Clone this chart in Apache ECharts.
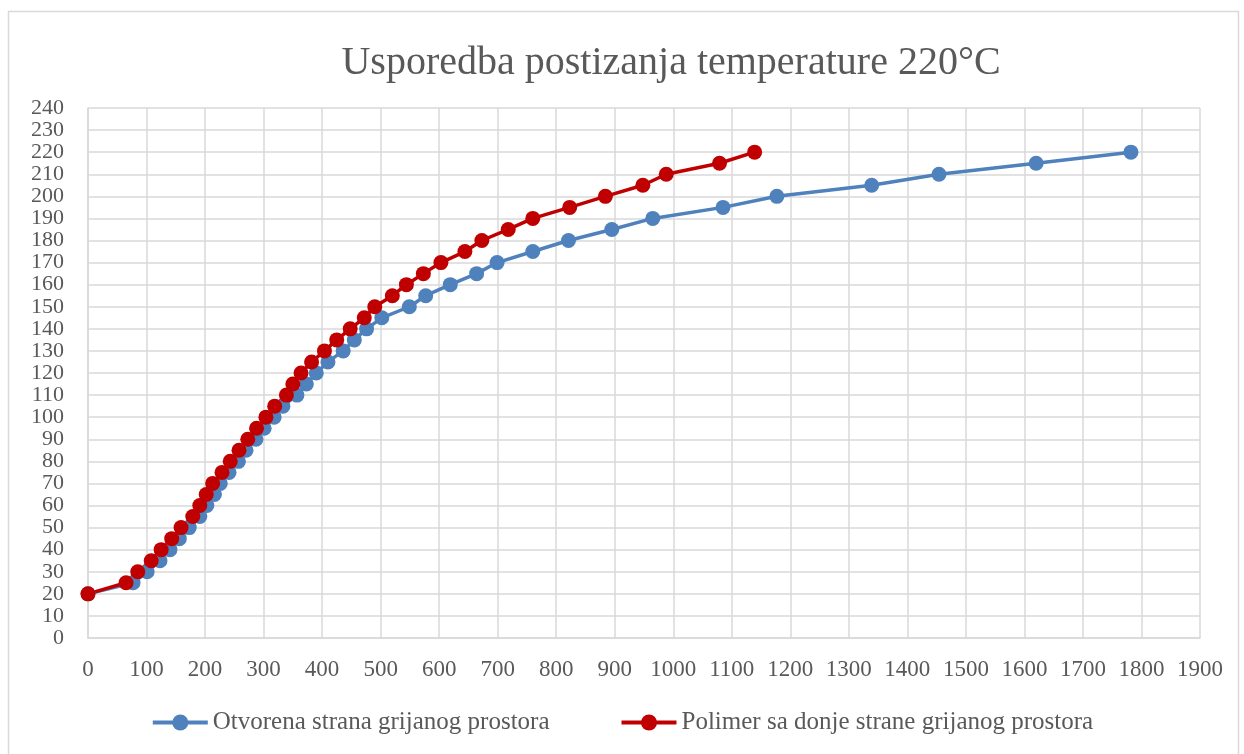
<!DOCTYPE html>
<html>
<head>
<meta charset="utf-8">
<script src="https://cdn.jsdelivr.net/npm/echarts@6/dist/echarts.min.js"></script>
<style>
  html, body { margin: 0; padding: 0; background: #ffffff; }
  #chart { width: 1244px; height: 754px; }
</style>
</head>
<body>
<div id="chart"></div>
<script>
// Temperatures reached (°C), same steps for both runs
const temps = [20, 25, 30, 35, 40, 45, 50, 55, 60, 65, 70, 75, 80, 85, 90, 95, 100, 105, 110, 115,
  120, 125, 130, 135, 140, 145, 150, 155, 160, 165, 170, 175, 180, 185, 190, 195, 200, 205, 210, 215, 220];

// Time needed to reach each temperature
const timeOpen = [0, 77, 101, 123, 140, 156, 173, 191, 203, 216, 226, 241, 257, 270, 287, 301, 318, 333, 357, 373,
  390, 410, 436, 455, 476, 502, 549, 577, 619, 664, 699, 760, 821, 895, 965, 1085, 1177, 1339, 1454, 1620, 1782];
const timePolymer = [0, 65, 85, 108, 125, 143, 159, 179, 191, 202, 213, 229, 243, 258, 273, 288, 304, 319, 339, 350,
  364, 382, 404, 425, 448, 472, 490, 520, 544, 573, 603, 644, 673, 718, 760, 823, 884, 948, 988, 1079, 1139];

const seriesNames = ['Otvorena strana grijanog prostora', 'Polimer sa donje strane grijanog prostora'];
const chartTitle = 'Usporedba postizanja temperature 220°C';

const FONT = 'Liberation Serif';
const TEXT = '#595959';
const GRID = '#d9d9d9';

function pairs(xs, ys) { return xs.map((x, i) => [x, ys[i]]); }

const chart = echarts.init(document.getElementById('chart'), null, { renderer: 'canvas' });
chart.setOption({
  backgroundColor: '#ffffff',
  animation: false,
  title: {
    text: chartTitle,
    left: 666, top: 38, textAlign: 'center',
    textStyle: { fontFamily: FONT, fontSize: 40, fontWeight: 'normal', color: TEXT }
  },
  graphic: [{
    type: 'rect', silent: true,
    shape: { x: 8.5, y: 11.5, width: 1230, height: 760 },
    style: { fill: 'none', stroke: GRID, lineWidth: 1.5 }
  }],
  legend: {
    bottom: 14, left: 'center', itemGap: 70,
    itemWidth: 55, itemHeight: 20,
    lineStyle: { width: 4 },
    textStyle: { fontFamily: FONT, fontSize: 25, color: TEXT }
  },
  grid: { left: 88, right: 44, top: 108, bottom: 116, containLabel: false },
  xAxis: {
    type: 'value', min: 0, max: 1900, interval: 100,
    axisLine: { show: true, lineStyle: { color: GRID, width: 1.5 } },
    axisTick: { show: false },
    splitLine: { show: true, lineStyle: { color: GRID, width: 1.5 } },
    axisLabel: {
      margin: 20, fontFamily: FONT, fontSize: 23, color: TEXT,
      showMinLabel: true, showMaxLabel: true, hideOverlap: false,
      formatter: v => String(v)
    }
  },
  yAxis: {
    type: 'value', min: 0, max: 240, interval: 10,
    axisLine: { show: true, lineStyle: { color: GRID, width: 1.5 } },
    axisTick: { show: false },
    splitLine: { show: true, lineStyle: { color: GRID, width: 1.5 } },
    axisLabel: {
      margin: 24, fontFamily: FONT, fontSize: 22, lineHeight: 20, color: TEXT,
      showMinLabel: true, showMaxLabel: true, hideOverlap: false,
      formatter: v => String(v)
    }
  },
  series: [
    {
      name: seriesNames[0], type: 'line', data: pairs(timeOpen, temps),
      symbol: 'circle', symbolSize: 15,
      lineStyle: { color: '#4f81bd', width: 3.5 },
      itemStyle: { color: '#4f81bd' }
    },
    {
      name: seriesNames[1], type: 'line', data: pairs(timePolymer, temps),
      symbol: 'circle', symbolSize: 15,
      lineStyle: { color: '#c00000', width: 3.5 },
      itemStyle: { color: '#c00000' }
    }
  ]
});
</script>
</body>
</html>
